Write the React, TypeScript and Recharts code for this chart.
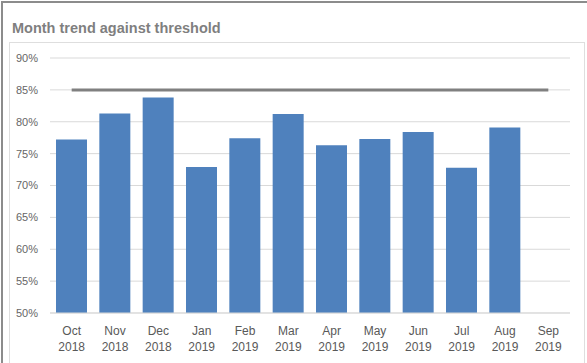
import { ComposedChart, Bar, Line, XAxis, YAxis, CartesianGrid } from "recharts";

const months = [
  "Oct 2018", "Nov 2018", "Dec 2018", "Jan 2019", "Feb 2019", "Mar 2019",
  "Apr 2019", "May 2019", "Jun 2019", "Jul 2019", "Aug 2019", "Sep 2019",
];
// monthly result in %, Sep not reported yet
const actual = [77.2, 81.3, 83.8, 72.9, 77.4, 81.2, 76.3, 77.3, 78.4, 72.8, 79.1, null];
const threshold = [85, 85, 85, 85, 85, 85, 85, 85, 85, 85, 85, 85];
const yTicks = [50, 55, 60, 65, 70, 75, 80, 85, 90];

const data = months.map((m, i) => ({ month: m, actual: actual[i], threshold: threshold[i] }));

const FONT = "'Liberation Sans', Arial, sans-serif";

function MonthTick({ x, y, payload }: any) {
  const [mon, year] = String(payload.value).split(" ");
  return (
    <text x={x} y={y} textAnchor="middle" fill="#595959" fontSize={12} fontFamily={FONT}>
      <tspan x={x} dy={14}>{mon}</tspan>
      <tspan x={x} dy={15.5}>{year}</tspan>
    </text>
  );
}

export default function App() {
  return (
    <div style={{ position: "relative", width: 587, height: 363, background: "#fff", overflow: "hidden" }}>
      <style>{`body{margin:0}`}</style>
      <div style={{
        position: "absolute", left: 1, top: 1, width: 590, height: 370,
        borderTop: "2px solid #8c8c8c", borderLeft: "2px solid #8c8c8c",
      }} />
      <div style={{
        position: "absolute", left: 9, top: 42, width: 574, height: 340,
        border: "1px solid #dedede",
      }} />
      <div style={{
        position: "absolute", left: 12, top: 20, fontFamily: FONT,
        fontWeight: "bold", fontSize: 14.5, color: "#7f7f7f", whiteSpace: "nowrap",
      }}>
        Month trend against threshold
      </div>
      <div style={{ position: "absolute", left: 0, top: 0 }}>
        <ComposedChart width={587} height={363} data={data} margin={{ top: 58, right: 17, bottom: 10, left: 0 }}>
          <CartesianGrid vertical={false} stroke="#d9d9d9" />
          <XAxis
            dataKey="month" height={40} tickLine={false} axisLine={{ stroke: "#d9d9d9" }}
            tick={<MonthTick />} interval={0}
          />
          <YAxis
            width={50} domain={[50, 90]} ticks={yTicks} axisLine={false} tickLine={false}
            tickMargin={6} tickFormatter={(v) => `${v}%`}
            tick={{ fill: "#666666", fontSize: 11, fontFamily: FONT }}
          />
          <Bar dataKey="actual" fill="#4f81bd" barSize={31} isAnimationActive={false} />
          <Line dataKey="threshold" stroke="#808080" strokeWidth={3} dot={false} activeDot={false} isAnimationActive={false} />
        </ComposedChart>
      </div>
    </div>
  );
}
